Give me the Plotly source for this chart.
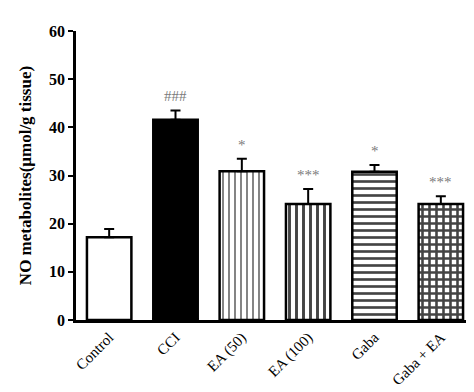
import plotly.graph_objects as go

categories = ["Control", "CCI", "EA (50)", "EA (100)", "Gaba", "Gaba + EA"]
means = [17.2, 41.6, 30.9, 24.1, 30.8, 24.1]
sems = [1.7, 1.9, 2.6, 3.1, 1.4, 1.6]
sig_labels = ["", "###", "*", "***", "*", "***"]
y_ticks = [0, 10, 20, 30, 40, 50, 60]

colors = ["white", "black", "white", "white", "white", "white"]
shapes = ["", "", "|", "|", "-", "+"]
fgcolors = ["black", "black", "#6a6a6a", "black", "black", "black"]
sizes = [8, 8, 6, 7, 7, 7]
solids = [0.3, 0.3, 0.22, 0.42, 0.38, 0.6]

fig = go.Figure()
fig.add_trace(go.Bar(
    x=categories, y=means,
    marker=dict(
        color=colors,
        line=dict(color="black", width=2.5),
        pattern=dict(shape=shapes, fgcolor=fgcolors, bgcolor="white",
                     size=sizes, solidity=solids, fillmode="overlay",
                     fgopacity=1),
    ),
    error_y=dict(type="data", array=sems, arrayminus=[0] * len(sems),
                 symmetric=False, color="black", thickness=2, width=5),
    width=0.67,
    showlegend=False,
))

for c, m, s, lab in zip(categories, means, sems, sig_labels):
    if lab:
        fig.add_annotation(x=c, y=m + s, text=lab, showarrow=False,
                           yanchor="bottom", yshift=4,
                           font=dict(family="Liberation Serif", size=15, color="#7a7a7a"))

fig.update_layout(
    width=474, height=392,
    margin=dict(l=68, r=8, t=23, b=80),
    paper_bgcolor="white", plot_bgcolor="white",
    font=dict(family="Liberation Serif", color="black"),
    bargap=0.33,
)
fig.update_xaxes(
    range=[-0.5, 5.5], showline=True, linecolor="black", linewidth=2.5,
    ticks="", tickangle=-45, tickfont=dict(size=15, family="Liberation Serif"),
    showgrid=False,
)
fig.update_yaxes(
    range=[0, 60], tickvals=y_ticks, showline=True, linecolor="black", linewidth=2.5,
    ticks="outside", ticklen=5, tickwidth=2, tickcolor="black",
    tickfont=dict(size=16, family="Liberation Serif", weight="bold"),
    title=dict(text="<b>NO metabolites(μmol/g tissue)</b>",
               font=dict(size=17, family="Liberation Serif"), standoff=14),
    showgrid=False, zeroline=False,
)

fig.write_html("out.html")
